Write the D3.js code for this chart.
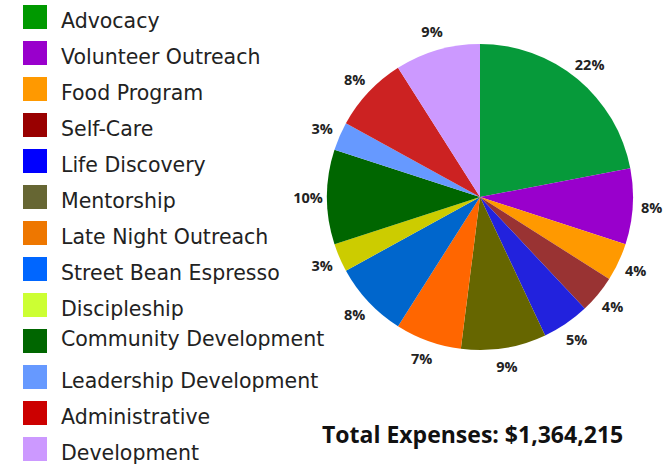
<!DOCTYPE html>
<html><head><meta charset="utf-8">
<script src="https://cdn.jsdelivr.net/npm/d3@7"></script>
<style>body{margin:0;background:#fff}svg{display:block}</style>
</head><body>
<script>
const categories = ["Advocacy","Volunteer Outreach","Food Program","Self-Care","Life Discovery","Mentorship","Late Night Outreach","Street Bean Espresso","Discipleship","Community Development","Leadership Development","Administrative","Development"];
const values = [22,8,4,4,5,9,7,8,3,10,3,8,9];
const sliceColors = ["#069a3a","#9900cc","#ff9900","#993333","#2222dd","#666600","#ff6600","#0066cc","#cccc00","#006600","#6699ff","#cc2222","#cc99ff"];
const legendColors = ["#009900","#9900cc","#ff9900","#990000","#0000ff","#666633","#ee7700","#0066ff","#ccff33","#006600","#6699ff","#cc0000","#cc99ff"];
const title = "Total Expenses: $1,364,215";

const W = 671, H = 466;
const svg = d3.select("body").append("svg").attr("width", W).attr("height", H);

const cx = 480, cy = 197, R = 153, LR = 172;
const pie = d3.pie().sort(null).value(d => d);
const arcs = pie(values);
const arc = d3.arc().innerRadius(0).outerRadius(R);
const labelArc = d3.arc().innerRadius(LR).outerRadius(LR);
const g = svg.append("g").attr("transform", `translate(${cx},${cy})`);
g.selectAll("path").data(arcs).join("path")
  .attr("d", arc).attr("fill", (d, i) => sliceColors[i]);
g.selectAll("text").data(arcs).join("text")
  .attr("transform", d => `translate(${labelArc.centroid(d)})`)
  .attr("text-anchor", "middle").attr("dominant-baseline", "central")
  .attr("font-family", "'Open Sans', sans-serif").attr("font-weight", "bold")
  .attr("font-size", 14.5).attr("fill", "#222")
  .text(d => d.value + "%");

// legend
const y = d3.scaleBand().domain(categories).range([5, 5 + 36 * categories.length]).paddingInner(0);
const lg = svg.append("g");
const rows = lg.selectAll("g").data(categories).join("g")
  .attr("transform", d => `translate(23,${y(d)})`);
rows.append("rect").attr("width", 24).attr("height", 24).attr("fill", (d, i) => legendColors[i]);
rows.append("text").attr("x", 38).attr("y", (d, i) => d === "Community Development" ? 17 : 23)
  .attr("font-family", "'DejaVu Sans', sans-serif").attr("font-size", 20.5).attr("fill", "#222")
  .text(d => d);

svg.append("text").attr("x", 322).attr("y", 443)
  .attr("font-family", "'Open Sans', sans-serif").attr("font-weight", "bold")
  .attr("font-size", 23).attr("fill", "#111").text(title);
</script>
</body></html>
